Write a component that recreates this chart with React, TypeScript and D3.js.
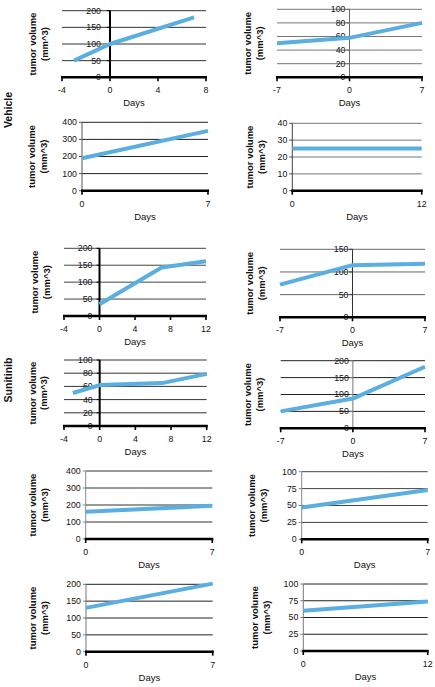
import React from "react";
import * as d3 from "d3";

// ---------- data ----------
const days1 = [-3, 0, 7];
const vol1 = [50, 100, 180];
const days2 = [-7, 0, 7];
const vol2 = [50, 58, 80];
const days3 = [0, 7];
const vol3 = [190, 350];
const days4 = [0, 12];
const vol4 = [25, 25];
const days5 = [0, 7, 12];
const vol5 = [35, 143, 162];
const days6 = [-7, 0, 7];
const vol6 = [72, 115, 118];
const days7 = [-3, 0, 7, 12];
const vol7 = [50, 62, 65, 79];
const days8 = [-7, 0, 7];
const vol8 = [50, 88, 182];
const days9 = [0, 7];
const vol9 = [160, 195];
const days10 = [0, 7];
const vol10 = [47, 73];
const days11 = [0, 7];
const vol11 = [130, 202];
const days12 = [0, 12];
const vol12 = [60, 74];

const xTicksA = [-4, 0, 4, 8];
const xTicksB = [-7, 0, 7];
const xTicksC = [0, 7];
const xTicksD = [0, 12];
const xTicksE = [-4, 0, 4, 8, 12];

const yTicks200 = [0, 50, 100, 150, 200];
const yTicks100by20 = [0, 20, 40, 60, 80, 100];
const yTicks400 = [0, 100, 200, 300, 400];
const yTicks40 = [0, 10, 20, 30, 40];
const yTicks150 = [0, 50, 100, 150];
const yTicks100by25 = [0, 25, 50, 75, 100];

const groupLabels = ["Vehicle", "Sunitinib"];
const xTitle = "Days";
const yTitle1 = "tumor volume";
const yTitle2 = "(mm^3)";

// ---------- panels (data + layout) ----------
type Panel = {
  days: number[];
  vol: number[];
  xTicks: number[];
  yTicks: number[];
  x0: number; x1: number; yTop: number; yBot: number;
  tx1: number; tx2: number;
  grid: string; yAxisColor: string; yAxisW: number; gap: number;
};

const panels: Panel[] = [
  { days: days1, vol: vol1, xTicks: xTicksA, yTicks: yTicks200, x0: 62, x1: 206, yTop: 10.7, yBot: 77.3, tx1: 33, tx2: 45, grid: "#333", yAxisColor: "#000", yAxisW: 2, gap: 9 },
  { days: days2, vol: vol2, xTicks: xTicksB, yTicks: yTicks100by20, x0: 277, x1: 422, yTop: 9.3, yBot: 77.3, tx1: 248, tx2: 260, grid: "#777", yAxisColor: "#666", yAxisW: 1, gap: 4 },
  { days: days3, vol: vol3, xTicks: xTicksC, yTicks: yTicks400, x0: 82, x1: 208, yTop: 122.3, yBot: 190.7, tx1: 31.7, tx2: 43.3, grid: "#222", yAxisColor: "#555", yAxisW: 1, gap: 5 },
  { days: days4, vol: vol4, xTicks: xTicksD, yTicks: yTicks40, x0: 292.3, x1: 421.7, yTop: 123.3, yBot: 190.7, tx1: 250, tx2: 261.7, grid: "#777", yAxisColor: "#444", yAxisW: 1, gap: 5 },
  { days: days5, vol: vol5, xTicks: xTicksE, yTicks: yTicks200, x0: 64, x1: 206, yTop: 248.3, yBot: 316, tx1: 35, tx2: 46.7, grid: "#444", yAxisColor: "#000", yAxisW: 2, gap: 7 },
  { days: days6, vol: vol6, xTicks: xTicksB, yTicks: yTicks150, x0: 280, x1: 425, yTop: 249.3, yBot: 317.3, tx1: 250, tx2: 261.7, grid: "#666", yAxisColor: "#333", yAxisW: 1, gap: 4 },
  { days: days7, vol: vol7, xTicks: xTicksE, yTicks: yTicks100by20, x0: 64, x1: 206.7, yTop: 360, yBot: 426, tx1: 33, tx2: 44, grid: "#333", yAxisColor: "#000", yAxisW: 2, gap: 7 },
  { days: days8, vol: vol8, xTicks: xTicksB, yTicks: yTicks200, x0: 280.7, x1: 425, yTop: 360.7, yBot: 428.3, tx1: 248, tx2: 260, grid: "#222", yAxisColor: "#777", yAxisW: 1, gap: 4 },
  { days: days9, vol: vol9, xTicks: xTicksC, yTicks: yTicks400, x0: 85.7, x1: 212.3, yTop: 471, yBot: 539, tx1: 33, tx2: 45, grid: "#333", yAxisColor: "#888", yAxisW: 1, gap: 5 },
  { days: days10, vol: vol10, xTicks: xTicksC, yTicks: yTicks100by25, x0: 301.7, x1: 427.7, yTop: 471.7, yBot: 539.3, tx1: 251.7, tx2: 263.3, grid: "#444", yAxisColor: "#888", yAxisW: 1, gap: 5 },
  { days: days11, vol: vol11, xTicks: xTicksC, yTicks: yTicks200, x0: 86, x1: 212.7, yTop: 584.3, yBot: 651.7, tx1: 33, tx2: 45, grid: "#222", yAxisColor: "#777", yAxisW: 1, gap: 5 },
  { days: days12, vol: vol12, xTicks: xTicksD, yTicks: yTicks100by25, x0: 303.3, x1: 427.7, yTop: 584, yBot: 651, tx1: 255, tx2: 266.7, grid: "#222", yAxisColor: "#777", yAxisW: 1, gap: 5 },
];

const groupPos = [
  { x: 8, y: 110 },
  { x: 8, y: 380 },
];

const FONT = "'Liberation Sans', Arial, Helvetica, sans-serif";
const BLUE = "#5aaee0";

function PanelChart({ p }: { p: Panel }) {
  const xs = d3.scaleLinear().domain([p.xTicks[0], p.xTicks[p.xTicks.length - 1]]).range([p.x0, p.x1]);
  const ys = d3.scaleLinear().domain([0, p.yTicks[p.yTicks.length - 1]]).range([p.yBot, p.yTop]);
  const line = d3.line<number>().x((_, i) => xs(p.days[i])).y((v) => ys(v));
  const axisX = xs(0);
  const midY = (p.yTop + p.yBot) / 2;
  return (
    <g>
      {p.yTicks.filter((t) => t !== 0).map((t) => (
        <line key={"g" + t} x1={p.x0} x2={p.x1} y1={ys(t)} y2={ys(t)} stroke={p.grid} strokeWidth={1} />
      ))}
      <line x1={axisX} x2={axisX} y1={p.yTop} y2={p.yBot} stroke={p.yAxisColor} strokeWidth={p.yAxisW} />
      {p.yTicks.map((t) => (
        <line key={"yt" + t} x1={axisX - 3} x2={axisX} y1={ys(t)} y2={ys(t)} stroke={p.yAxisColor} strokeWidth={1} />
      ))}
      {p.yTicks.map((t) => (
        <text key={"yl" + t} x={axisX - p.gap} y={ys(t)} dy="0.34em" textAnchor="end" fontSize={8.8} fontFamily={FONT} fill="#111">
          {t}
        </text>
      ))}
      <line x1={p.x0 - 1} x2={p.x1 + 1} y1={p.yBot} y2={p.yBot} stroke="#000" strokeWidth={2.5} />
      {p.xTicks.map((t) => (
        <line key={"xt" + t} x1={xs(t)} x2={xs(t)} y1={p.yBot - 1} y2={p.yBot + 4} stroke="#000" strokeWidth={1.6} />
      ))}
      {p.xTicks.map((t) => (
        <text key={"xl" + t} x={xs(t)} y={p.yBot + 16} textAnchor="middle" fontSize={8.8} fontFamily={FONT} fill="#111">
          {t}
        </text>
      ))}
      <text x={(p.x0 + p.x1) / 2} y={p.yBot + 29} textAnchor="middle" fontSize={9.5} fontFamily={FONT} fill="#111">
        {xTitle}
      </text>
      <text transform={`translate(${p.tx1},${midY}) rotate(-90)`} textAnchor="middle" dy="0.35em" fontSize={9.5} fontWeight="bold" fontFamily={FONT} fill="#111">
        {yTitle1}
      </text>
      <text transform={`translate(${p.tx2},${midY}) rotate(-90)`} textAnchor="middle" dy="0.35em" fontSize={9.5} fontWeight="bold" fontFamily={FONT} fill="#111">
        {yTitle2}
      </text>
      <path d={line(p.vol) || ""} fill="none" stroke={BLUE} strokeWidth={4} strokeLinejoin="round" />
    </g>
  );
}

export default function App() {
  return (
    <svg width={435} height={687} style={{ position: "absolute", left: 0, top: 0, background: "#fff" }}>
      <rect x={0} y={0} width={435} height={687} fill="#fff" />
      {panels.map((p, i) => (
        <PanelChart key={i} p={p} />
      ))}
      {groupLabels.map((g, i) => (
        <text key={g} transform={`translate(${groupPos[i].x},${groupPos[i].y}) rotate(-90)`} textAnchor="middle" dy="0.35em" fontSize={10.5} fontWeight="bold" fontFamily={FONT} fill="#111">
          {g}
        </text>
      ))}
    </svg>
  );
}
